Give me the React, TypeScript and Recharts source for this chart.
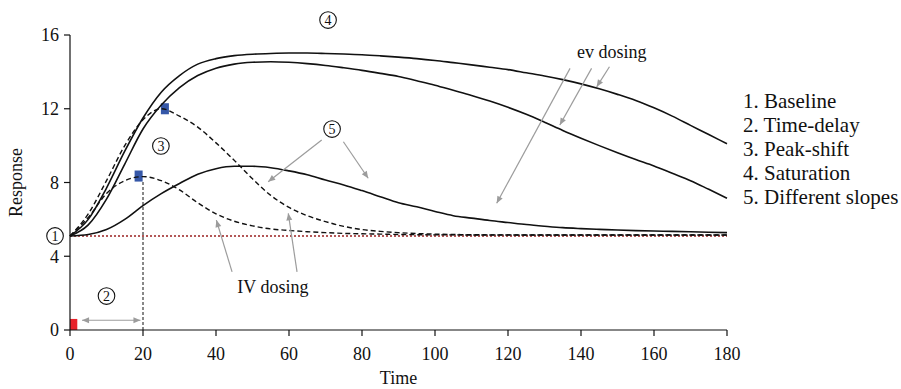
import React from 'react';
import {
  LineChart,
  Line,
  XAxis,
  YAxis,
  ReferenceLine,
  ReferenceArea,
  ReferenceDot,
  Legend,
} from 'recharts';

const FONT = '"Liberation Serif", "Times New Roman", Times, serif';
const INK = '#111111';
const ARROW_GRAY = '#9c9c9c';

// ---- data ----
const times = [
  0, 5, 10, 15, 20, 25, 30, 35, 40, 45, 50, 55, 60, 65, 70, 75, 80, 85, 90,
  95, 100, 105, 110, 115, 120, 125, 130, 135, 140, 145, 150, 155, 160, 165,
  170, 175, 180,
];
const saturationUpper = [
  5.1, 6.0, 7.7, 9.7, 11.5, 12.9, 13.8, 14.42, 14.72, 14.88, 14.96, 15.0,
  15.02, 15.02, 15.0, 14.97, 14.93, 14.87, 14.8, 14.72, 14.62, 14.5, 14.38,
  14.25, 14.12, 13.95, 13.78, 13.58, 13.35, 13.08, 12.78, 12.45, 12.05, 11.6,
  11.1, 10.6, 10.1,
];
const saturationLower = [
  5.1, 5.7, 7.1, 9.0, 10.9, 12.2, 13.15, 13.8, 14.2, 14.42, 14.52, 14.55,
  14.52, 14.45, 14.35, 14.22, 14.08, 13.92, 13.75, 13.52, 13.28, 13.0, 12.72,
  12.42, 12.08, 11.7, 11.27, 10.82, 10.4, 10.0, 9.62, 9.25, 8.9, 8.5, 8.1,
  7.63, 7.15,
];
const peakShiftUpper = [
  5.1, 6.3, 8.1, 10.0, 11.4, 12.0, 11.6, 11.0, 10.15, 9.2, 8.2, 7.3, 6.65,
  6.2, 5.88, 5.62, 5.45, 5.35, 5.28, 5.23, 5.2, 5.18, 5.17, 5.16, 5.16, 5.15,
  5.15, 5.15, 5.15, 5.15, 5.15, 5.15, 5.15, 5.15, 5.15, 5.15, 5.15,
];
const peakShiftLower = [
  5.1, 6.1, 7.4, 8.1, 8.32, 8.1, 7.6, 6.9, 6.3, 5.9, 5.65, 5.48, 5.4, 5.33,
  5.28, 5.24, 5.22, 5.2, 5.18, 5.17, 5.16, 5.16, 5.15, 5.15, 5.15, 5.15, 5.15,
  5.15, 5.15, 5.15, 5.15, 5.15, 5.15, 5.15, 5.15, 5.15, 5.15,
];
const differentSlopes = [
  5.1, 5.18, 5.45, 6.0, 6.75, 7.4, 7.95, 8.45, 8.75, 8.88, 8.88, 8.8, 8.63,
  8.42, 8.13, 7.87, 7.56, 7.23, 6.9, 6.68, 6.43, 6.2, 6.07, 5.94, 5.83, 5.72,
  5.63, 5.55, 5.5, 5.46, 5.42, 5.39, 5.37, 5.35, 5.33, 5.3, 5.28,
];
const baselineResponse = 5.1;

const xTicks = [0, 20, 40, 60, 80, 100, 120, 140, 160, 180];
const yTicks = [0, 4, 8, 12, 16];

const legendItems = [
  '1. Baseline',
  '2. Time-delay',
  '3. Peak-shift',
  '4. Saturation',
  '5. Different slopes',
];

// annotation anchors (data units)
const circledLabels = ['1', '2', '3', '4', '5'];
const circledTimes = [-4.1, 10.0, 24.9, 70.7, 71.8];
const circledResponses = [5.1, 1.84, 9.98, 16.81, 10.9];

const noteTexts = ['ev dosing', 'IV dosing'];
const noteTimes = [148.4, 55.6];
const noteResponses = [15.09, 2.36];

const arrowFromT = [3.3, 44.4, 62.2, 68.96, 74.9, 137.0, 142.9, 147.8];
const arrowFromR = [0.53, 3.15, 3.15, 10.3, 10.21, 14.19, 14.19, 14.28];
const arrowToT = [19.3, 40.1, 59.8, 54.3, 81.7, 116.9, 134.2, 144.3];
const arrowToR = [0.53, 5.96, 6.33, 8.04, 8.23, 6.87, 11.12, 13.19];
const arrowDouble = [true, false, false, false, false, false, false, false];

const doseTime = [0, 2];
const doseResponse = [0, 0.6];
const peakTimes = [26.0, 18.8];
const peakResponses = [12.0, 8.35];

const data = times.map((t, i) => ({
  t,
  satU: saturationUpper[i],
  satL: saturationLower[i],
  peakU: peakShiftUpper[i],
  peakL: peakShiftLower[i],
  slopes: differentSlopes[i],
}));

// ---- shapes ----
function headPoints(xt: number, yt: number, xf: number, yf: number) {
  const ang = Math.atan2(yt - yf, xt - xf);
  const L = 7;
  const W = 3;
  const bx = xt - L * Math.cos(ang);
  const by = yt - L * Math.sin(ang);
  const px = -Math.sin(ang) * W;
  const py = Math.cos(ang) * W;
  return `${xt},${yt} ${bx + px},${by + py} ${bx - px},${by - py}`;
}

const makeArrow = (both: boolean) => (props: any) => {
  const { x1, y1, x2, y2 } = props;
  return (
    <g>
      <line x1={x1} y1={y1} x2={x2} y2={y2} stroke={ARROW_GRAY} strokeWidth={1.2} />
      <polygon points={headPoints(x2, y2, x1, y1)} fill={ARROW_GRAY} />
      {both ? <polygon points={headPoints(x1, y1, x2, y2)} fill={ARROW_GRAY} /> : null}
    </g>
  );
};

const makeCircled = (label: string) => (p: any) => (
  <g>
    <circle cx={p.cx} cy={p.cy} r={8.3} fill="none" stroke={INK} strokeWidth={1.1} />
    <text
      x={p.cx}
      y={p.cy}
      dy="0.36em"
      textAnchor="middle"
      fontSize={14}
      fontFamily={FONT}
      fill={INK}
    >
      {label}
    </text>
  </g>
);

const makeNote = (label: string) => (p: any) => (
  <text
    x={p.cx}
    y={p.cy}
    dy="0.35em"
    textAnchor="middle"
    fontSize={18}
    fontFamily={FONT}
    fill={INK}
  >
    {label}
  </text>
);

const tickStyle = { fontSize: 18, fontFamily: FONT, fill: INK };

const renderLegend = () => (
  <div style={{ fontFamily: FONT, fontSize: 21, color: INK, whiteSpace: 'nowrap' }}>
    {legendItems.map((s) => (
      <div key={s} style={{ height: 24, lineHeight: '24px' }}>
        {s}
      </div>
    ))}
  </div>
);

export default function App() {
  return (
    <div style={{ position: 'absolute', left: 0, top: 0 }}>
      <LineChart
        width={901}
        height={389}
        data={data}
        margin={{ top: 35, right: 174, bottom: 0, left: 0 }}
      >
        <XAxis
          dataKey="t"
          type="number"
          domain={[0, 180]}
          ticks={xTicks}
          height={59}
          tickSize={6}
          tickMargin={11}
          tick={tickStyle}
          axisLine={{ stroke: INK, strokeWidth: 1.2 }}
          tickLine={{ stroke: INK, strokeWidth: 1.2 }}
          label={{
            content: (p: any) => {
              const vb = p.viewBox || { x: 70, y: 330, width: 657, height: 59 };
              return (
                <text
                  x={vb.x + vb.width / 2}
                  y={vb.y + vb.height - 5}
                  textAnchor="middle"
                  fontSize={18}
                  fontFamily={FONT}
                  fill={INK}
                >
                  Time
                </text>
              );
            },
          }}
        />
        <YAxis
          type="number"
          domain={[0, 16]}
          ticks={yTicks}
          width={70}
          tickSize={6}
          tickMargin={5}
          tick={tickStyle}
          axisLine={{ stroke: INK, strokeWidth: 1.2 }}
          tickLine={{ stroke: INK, strokeWidth: 1.2 }}
          label={{
            content: (p: any) => {
              const vb = p.viewBox || { x: 0, y: 35, width: 70, height: 295 };
              const x0 = vb.x + 22;
              const y0 = vb.y + vb.height / 2;
              return (
                <text
                  x={x0}
                  y={y0}
                  transform={`rotate(-90 ${x0} ${y0})`}
                  textAnchor="middle"
                  fontSize={18}
                  fontFamily={FONT}
                  fill={INK}
                >
                  Response
                </text>
              );
            },
          }}
        />
        <Legend
          layout="vertical"
          align="center"
          verticalAlign="middle"
          wrapperStyle={{ position: 'absolute', left: 743, top: 89, width: 160, height: 130 }}
          content={renderLegend}
        />
        <ReferenceLine
          y={baselineResponse}
          stroke="#9b2020"
          strokeWidth={1.4}
          strokeDasharray="2 2"
        />
        <ReferenceLine
          segment={[
            { x: 20, y: 0 },
            { x: 20, y: peakResponses[1] - 0.3 },
          ]}
          stroke={INK}
          strokeWidth={1}
          strokeDasharray="3 2"
        />
        <Line
          dataKey="satU"
          type="monotone"
          stroke={INK}
          strokeWidth={1.6}
          dot={false}
          isAnimationActive={false}
        />
        <Line
          dataKey="satL"
          type="monotone"
          stroke={INK}
          strokeWidth={1.6}
          dot={false}
          isAnimationActive={false}
        />
        <Line
          dataKey="slopes"
          type="monotone"
          stroke={INK}
          strokeWidth={1.6}
          dot={false}
          isAnimationActive={false}
        />
        <Line
          dataKey="peakU"
          type="monotone"
          stroke={INK}
          strokeWidth={1.4}
          strokeDasharray="5 3"
          dot={false}
          isAnimationActive={false}
        />
        <Line
          dataKey="peakL"
          type="monotone"
          stroke={INK}
          strokeWidth={1.4}
          strokeDasharray="5 3"
          dot={false}
          isAnimationActive={false}
        />
        <ReferenceArea
          x1={doseTime[0]}
          x2={doseTime[1]}
          y1={doseResponse[0]}
          y2={doseResponse[1]}
          fill="#e8222a"
          fillOpacity={1}
          stroke="none"
          ifOverflow="visible"
        />
        {peakTimes.map((t, i) => (
          <ReferenceArea
            key={`pk${i}`}
            x1={t - 1.1}
            x2={t + 1.1}
            y1={peakResponses[i] - 0.3}
            y2={peakResponses[i] + 0.3}
            fill="#3557a8"
            fillOpacity={1}
            stroke="none"
            ifOverflow="visible"
          />
        ))}
        {arrowFromT.map((t, i) => (
          <ReferenceLine
            key={`ar${i}`}
            segment={[
              { x: t, y: arrowFromR[i] },
              { x: arrowToT[i], y: arrowToR[i] },
            ]}
            ifOverflow="visible"
            shape={makeArrow(arrowDouble[i])}
          />
        ))}
        {circledLabels.map((s, i) => (
          <ReferenceDot
            key={`c${i}`}
            x={circledTimes[i]}
            y={circledResponses[i]}
            r={8}
            ifOverflow="visible"
            shape={makeCircled(s)}
          />
        ))}
        {noteTexts.map((s, i) => (
          <ReferenceDot
            key={`n${i}`}
            x={noteTimes[i]}
            y={noteResponses[i]}
            r={1}
            ifOverflow="visible"
            shape={makeNote(s)}
          />
        ))}
      </LineChart>
    </div>
  );
}
